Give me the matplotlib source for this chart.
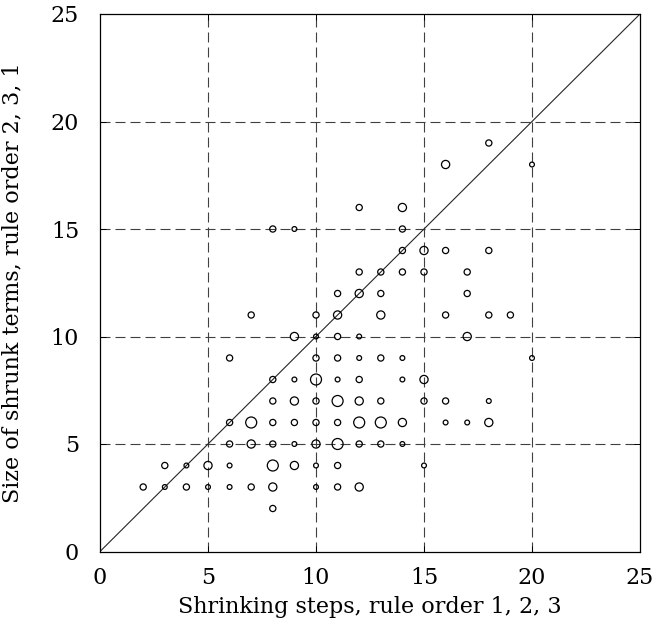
import numpy as np
import matplotlib
matplotlib.use("Agg")
import matplotlib.pyplot as plt

# Data: (shrinking steps, shrunk size, relative weight)
steps = [8,
         2, 3, 4, 5, 6, 7, 8, 10, 11, 12,
         3, 4, 5, 6, 8, 9, 10, 11, 15,
         6, 7, 8, 9, 10, 11, 12, 13, 14,
         6, 7, 8, 9, 10, 11, 12, 13, 14, 16, 17, 18,
         8, 9, 10, 11, 12, 13, 15, 16, 18,
         8, 9, 10, 11, 12, 14, 15,
         6, 10, 11, 12, 13, 14, 20,
         9, 10, 11, 12, 17,
         7, 10, 11, 13, 16, 18, 19,
         11, 12, 13, 17,
         12, 13, 14, 15, 17,
         14, 15, 16, 18,
         8, 9, 14,
         12, 14,
         16, 20,
         18]
sizes = [2,
         3, 3, 3, 3, 3, 3, 3, 3, 3, 3,
         4, 4, 4, 4, 4, 4, 4, 4, 4,
         5, 5, 5, 5, 5, 5, 5, 5, 5,
         6, 6, 6, 6, 6, 6, 6, 6, 6, 6, 6, 6,
         7, 7, 7, 7, 7, 7, 7, 7, 7,
         8, 8, 8, 8, 8, 8, 8,
         9, 9, 9, 9, 9, 9, 9,
         10, 10, 10, 10, 10,
         11, 11, 11, 11, 11, 11, 11,
         12, 12, 12, 12,
         13, 13, 13, 13, 13,
         14, 14, 14, 14,
         15, 15, 15,
         16, 16,
         18, 18,
         19]
weight = [2,
          2, 1, 2, 1, 1, 2, 3, 1, 2, 3,
          2, 1, 3, 1, 4, 3, 1, 2, 1,
          2, 3, 2, 1, 3, 4, 2, 2, 1,
          2, 4, 2, 2, 2, 2, 4, 4, 3, 1, 1, 3,
          2, 3, 2, 4, 3, 2, 2, 2, 1,
          2, 1, 4, 1, 2, 1, 3,
          2, 2, 2, 1, 2, 1, 1,
          3, 1, 2, 1, 3,
          2, 2, 3, 3, 2, 2, 2,
          2, 3, 2, 2,
          2, 2, 2, 2, 2,
          2, 3, 2, 2,
          2, 1, 2,
          2, 3,
          3, 1,
          2]

ticks = [0, 5, 10, 15, 20, 25]

plt.rcParams['font.family'] = ['DejaVu Serif']
plt.rcParams['font.size'] = 16

fig = plt.figure(figsize=(6.54, 6.26), dpi=100)
ax = fig.add_axes([100/654, 1 - 551.5/626, 540/654, 537.5/626])

# marker diameter (px) per weight class
diam_px = {1: 4.8, 2: 6.2, 3: 8.2, 4: 11.0}
s = [(diam_px[w] * 0.72) ** 2 for w in weight]

for v in [5, 10, 15, 20]:
    ax.axvline(v, color='0.25', lw=0.8, ls=(0, (9, 4.5)), zorder=1)
    ax.axhline(v, color='0.25', lw=0.8, ls=(0, (9, 4.5)), zorder=1)

ax.plot([0, 25], [0, 25], color='0.15', lw=0.8, zorder=2)
ax.scatter(steps, sizes, s=s, facecolors='none', edgecolors='black',
           linewidths=0.9, zorder=3)

ax.set_xlim(0, 25)
ax.set_ylim(0, 25)
ax.set_xticks(ticks)
ax.set_yticks(ticks)
ax.tick_params(direction='in', length=4, width=0.7, top=True, right=True)
ax.tick_params(axis='x', pad=11)
ax.tick_params(axis='y', pad=15)
for sp in ax.spines.values():
    sp.set_linewidth(0.9)

ax.set_xlabel("Shrinking steps, rule order 1, 2, 3", labelpad=5)
ax.set_ylabel("Size of shrunk terms, rule order 2, 3, 1", labelpad=20)

plt.savefig('out.png', dpi=100)
